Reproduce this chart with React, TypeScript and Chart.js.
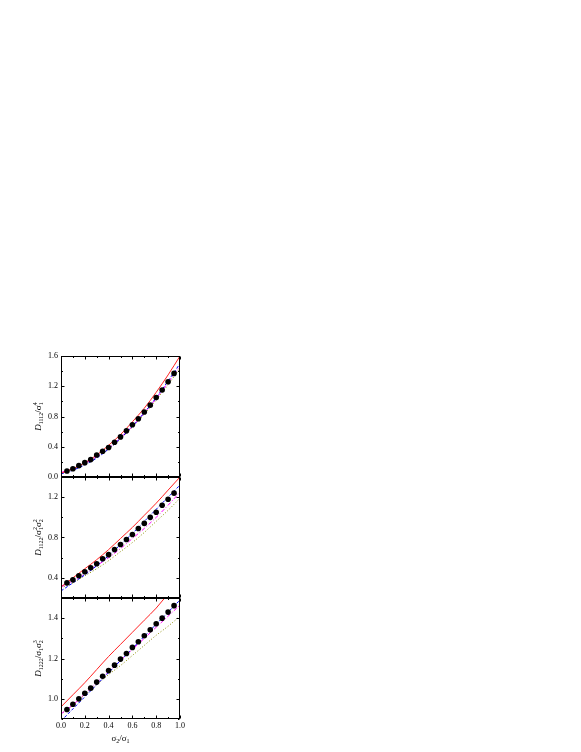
import React, { useEffect, useRef } from 'react';
import { Chart, registerables } from 'chart.js';
Chart.register(...registerables);

// ---------- data ----------
const xSim = [0.05, 0.1, 0.15, 0.2, 0.25, 0.3, 0.35, 0.4, 0.45, 0.5, 0.55, 0.6, 0.65, 0.7, 0.75, 0.8, 0.85, 0.9, 0.95];
const xTheory = [0, 0.1, 0.2, 0.3, 0.4, 0.5, 0.6, 0.7, 0.8, 0.9, 1.0];

// panel 1: D1112
const p1Sim = [0.08, 0.11, 0.15, 0.19, 0.23, 0.29, 0.34, 0.39, 0.46, 0.53, 0.61, 0.69, 0.77, 0.86, 0.95, 1.05, 1.15, 1.26, 1.37];
const p1Red = [0.05, 0.11, 0.19, 0.29, 0.42, 0.56, 0.73, 0.91, 1.12, 1.35, 1.6];
const p1Blue = [0.04, 0.09, 0.16, 0.25, 0.37, 0.51, 0.67, 0.85, 1.05, 1.27, 1.5];
const p1Magenta = [0.06, 0.11, 0.18, 0.27, 0.38, 0.52, 0.67, 0.85, 1.04, 1.25, 1.47];
const p1Olive = [0.05, 0.1, 0.17, 0.26, 0.37, 0.5, 0.66, 0.83, 1.02, 1.22, 1.44];

// panel 2: D1122
const p2Sim = [0.35, 0.38, 0.42, 0.46, 0.5, 0.54, 0.59, 0.63, 0.68, 0.73, 0.78, 0.83, 0.89, 0.94, 1.0, 1.05, 1.12, 1.18, 1.24];
const p2Red = [0.31, 0.4, 0.49, 0.58, 0.68, 0.79, 0.9, 1.02, 1.14, 1.27, 1.4];
const p2Blue = [0.27, 0.35, 0.43, 0.52, 0.62, 0.73, 0.84, 0.96, 1.08, 1.2, 1.32];
const p2Magenta = [0.31, 0.37, 0.44, 0.52, 0.6, 0.69, 0.79, 0.89, 1.0, 1.12, 1.25];
const p2Olive = [0.3, 0.35, 0.42, 0.49, 0.57, 0.66, 0.75, 0.85, 0.96, 1.07, 1.19];

// panel 3: D1222
const p3Sim = [0.947, 0.973, 1.0, 1.028, 1.053, 1.083, 1.112, 1.14, 1.167, 1.197, 1.225, 1.255, 1.283, 1.313, 1.342, 1.372, 1.4, 1.43, 1.462];
const p3Red = [0.96, 1.02, 1.08, 1.145, 1.21, 1.27, 1.33, 1.39, 1.45, 1.52, 1.58];
const p3Blue = [0.89, 0.95, 1.01, 1.07, 1.13, 1.19, 1.25, 1.31, 1.37, 1.43, 1.49];
const p3Magenta = [0.925, 0.97, 1.025, 1.08, 1.135, 1.19, 1.245, 1.3, 1.355, 1.41, 1.465];
const p3Olive = [0.925, 0.97, 1.02, 1.07, 1.12, 1.165, 1.215, 1.265, 1.315, 1.36, 1.41];

const xMajor = [0, 0.2, 0.4, 0.6, 0.8, 1.0];
const xMinor = [0.1, 0.3, 0.5, 0.7, 0.9];
const p1YMajor = [0, 0.4, 0.8, 1.2, 1.6];
const p1YMinor = [0.2, 0.6, 1.0, 1.4];
const p2YMajor = [0.4, 0.8, 1.2];
const p2YMinor = [0.2, 0.6, 1.0, 1.4];
const p3YMajor = [1.0, 1.2, 1.4];
const p3YMinor = [0.9, 1.1, 1.3, 1.5];

type Seg = { t: string; k: 'n' | 'i' | 'sub' | 'sup' | 'supsub'; t2?: string };
const p1Title: Seg[] = [{ t: 'D', k: 'i' }, { t: '1112', k: 'sub' }, { t: '/σ', k: 'n' }, { t: '4', k: 'supsub', t2: '1' }];
const p2Title: Seg[] = [{ t: 'D', k: 'i' }, { t: '1122', k: 'sub' }, { t: '/σ', k: 'n' }, { t: '2', k: 'supsub', t2: '1' }, { t: 'σ', k: 'n' }, { t: '2', k: 'supsub', t2: '2' }];
const p3Title: Seg[] = [{ t: 'D', k: 'i' }, { t: '1222', k: 'sub' }, { t: '/σ', k: 'n' }, { t: '1', k: 'sub' }, { t: 'σ', k: 'n' }, { t: '3', k: 'supsub', t2: '2' }];
const xTitle: Seg[] = [{ t: 'σ', k: 'n' }, { t: '2', k: 'sub' }, { t: '/σ', k: 'n' }, { t: '1', k: 'sub' }];

const FONT = '"Liberation Serif", "Times New Roman", serif';

function drawSegs(ctx: CanvasRenderingContext2D, segs: Seg[], cx: number, cy: number, size: number) {
  const small = Math.round(size * 0.68);
  const measure = (s: Seg) => {
    if (s.k === 'n') { ctx.font = `${size}px ${FONT}`; return ctx.measureText(s.t).width; }
    if (s.k === 'i') { ctx.font = `italic ${size}px ${FONT}`; return ctx.measureText(s.t).width; }
    ctx.font = `${small}px ${FONT}`;
    const w1 = ctx.measureText(s.t).width;
    const w2 = s.t2 ? ctx.measureText(s.t2).width : 0;
    return Math.max(w1, w2);
  };
  const total = segs.reduce((a, s) => a + measure(s), 0);
  let x = cx - total / 2;
  ctx.textBaseline = 'alphabetic';
  ctx.textAlign = 'left';
  ctx.fillStyle = '#000';
  const base = cy + size * 0.33;
  for (const s of segs) {
    const w = measure(s);
    if (s.k === 'n') { ctx.font = `${size}px ${FONT}`; ctx.fillText(s.t, x, base); }
    else if (s.k === 'i') { ctx.font = `italic ${size}px ${FONT}`; ctx.fillText(s.t, x, base); }
    else if (s.k === 'sub') { ctx.font = `${small}px ${FONT}`; ctx.fillText(s.t, x, base + size * 0.25); }
    else if (s.k === 'sup') { ctx.font = `${small}px ${FONT}`; ctx.fillText(s.t, x, base - size * 0.42); }
    else { ctx.font = `${small}px ${FONT}`; ctx.fillText(s.t, x, base - size * 0.42); ctx.fillText(s.t2 || '', x, base + size * 0.25); }
    x += w;
  }
}

const framePlugin = {
  id: 'frame',
  afterDatasetsDraw(chart: any, _args: any, opts: any) {
    const { ctx, chartArea: a, scales } = chart;
    const xs = scales.x, ys = scales.y;
    ctx.save();
    ctx.strokeStyle = '#000';
    ctx.lineWidth = 1;
    const L = Math.round(a.left) + 0.5, R = Math.round(a.right) - 0.5;
    const T = Math.round(a.top) + 0.5, B = Math.round(a.bottom) - 0.5;
    ctx.strokeRect(L, T, R - L, B - T);
    ctx.beginPath();
    const xt = (vals: number[], len: number) => {
      for (const v of vals) {
        const p = Math.round(xs.getPixelForValue(v)) + 0.5;
        ctx.moveTo(p, B); ctx.lineTo(p, B - len);
        ctx.moveTo(p, T); ctx.lineTo(p, T + len);
      }
    };
    const yt = (vals: number[], len: number) => {
      for (const v of vals) {
        const p = Math.round(ys.getPixelForValue(v)) + 0.5;
        ctx.moveTo(L, p); ctx.lineTo(L + len, p);
        ctx.moveTo(R, p); ctx.lineTo(R - len, p);
      }
    };
    xt(xMajor, 3); xt(xMinor, 1.5);
    yt(opts.yMajor, 3); yt(opts.yMinor, 1.5);
    ctx.stroke();
    ctx.save();
    ctx.translate(38, (a.top + a.bottom) / 2);
    ctx.rotate(-Math.PI / 2);
    drawSegs(ctx, opts.yTitle, 0, 0, 9);
    ctx.restore();
    if (opts.showXTitle) {
      drawSegs(ctx, xTitle, (a.left + a.right) / 2, a.bottom + 19, 9);
    }
    ctx.restore();
  },
};

type PanelProps = {
  top: number; height: number; sim: number[]; red: number[]; blue: number[]; magenta: number[]; olive: number[];
  yMin: number; yMax: number; yMajor: number[]; yMinor: number[]; yTitle: Seg[]; bottom: boolean;
};

function Panel(p: PanelProps) {
  const ref = useRef<HTMLCanvasElement>(null);
  useEffect(() => {
    if (!ref.current) return;
    const line = (vals: number[], color: string, dash: number[], order: number) => ({
      type: 'line' as const,
      data: xTheory.map((x, i) => ({ x, y: vals[i] })),
      borderColor: color,
      borderWidth: 1,
      borderDash: dash,
      pointRadius: 0,
      cubicInterpolationMode: 'monotone' as const,
      fill: false,
      order,
    });
    const chart = new Chart(ref.current, {
      type: 'line',
      data: {
        datasets: [
          {
            type: 'line',
            data: xSim.map((x, i) => ({ x, y: p.sim[i] })),
            showLine: false,
            pointRadius: 2.8,
            pointBackgroundColor: '#000',
            pointBorderColor: '#000',
            borderWidth: 0,
            order: 0,
          } as any,
          line(p.olive, '#8a8a00', [1, 2], 4),
          line(p.magenta, '#ff00ff', [4, 2, 1, 2], 3),
          line(p.blue, '#0000ff', [3, 2], 2),
          line(p.red, '#ff2020', [], 1),
        ],
      },
      options: {
        responsive: false,
        animation: false,
        devicePixelRatio: 1,
        layout: { padding: { top: 10, bottom: p.bottom ? 0 : 10, left: 0, right: 10 } },
        plugins: {
          legend: { display: false },
          tooltip: { enabled: false },
          frame: { yMajor: p.yMajor, yMinor: p.yMinor, yTitle: p.yTitle, showXTitle: p.bottom },
        } as any,
        scales: {
          x: {
            type: 'linear',
            min: 0,
            max: 1,
            display: p.bottom,
            grid: { display: false, drawTicks: false, tickLength: 0 },
            border: { display: false },
            afterBuildTicks: (s: any) => { s.ticks = xMajor.map((v) => ({ value: v })); },
            afterFit: (s: any) => { s.height = p.bottom ? 33 : 0; },
            ticks: {
              padding: 2,
              color: '#000',
              font: { family: FONT, size: 8 },
              maxRotation: 0,
              callback: (v: any) => Number(v).toFixed(1),
            },
          },
          y: {
            type: 'linear',
            min: p.yMin,
            max: p.yMax,
            grid: { display: false, drawTicks: false, tickLength: 0 },
            border: { display: false },
            afterBuildTicks: (s: any) => { s.ticks = p.yMajor.map((v) => ({ value: v })); },
            afterFit: (s: any) => { s.width = 61; },
            ticks: {
              padding: 3,
              color: '#000',
              font: { family: FONT, size: 8 },
              callback: (v: any) => Number(v).toFixed(1),
            },
          },
        },
      },
      plugins: [framePlugin],
    } as any);
    return () => chart.destroy();
  }, []);
  return (
    <canvas
      ref={ref}
      width={190}
      height={p.height}
      style={{ position: 'absolute', left: 0, top: p.top, width: 190, height: p.height }}
    />
  );
}

export default function App() {
  return (
    <div style={{ position: 'absolute', left: 0, top: 0, width: 581, height: 752, background: '#fff', overflow: 'hidden' }}>
      <Panel top={346} height={141} sim={p1Sim} red={p1Red} blue={p1Blue} magenta={p1Magenta} olive={p1Olive}
        yMin={0} yMax={1.6} yMajor={p1YMajor} yMinor={p1YMinor} yTitle={p1Title} bottom={false} />
      <Panel top={467} height={141} sim={p2Sim} red={p2Red} blue={p2Blue} magenta={p2Magenta} olive={p2Olive}
        yMin={0.2} yMax={1.4} yMajor={p2YMajor} yMinor={p2YMinor} yTitle={p2Title} bottom={false} />
      <Panel top={588} height={164} sim={p3Sim} red={p3Red} blue={p3Blue} magenta={p3Magenta} olive={p3Olive}
        yMin={0.9} yMax={1.5} yMajor={p3YMajor} yMinor={p3YMinor} yTitle={p3Title} bottom={true} />
    </div>
  );
}
